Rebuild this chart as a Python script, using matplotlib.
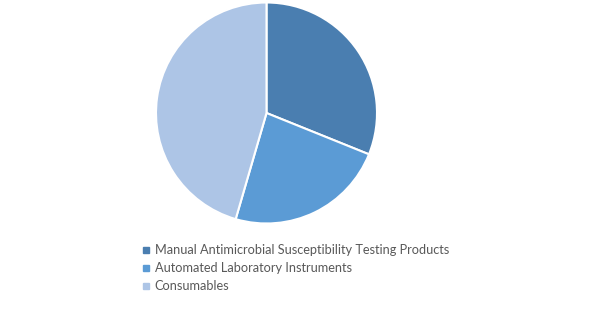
import matplotlib.pyplot as plt
from matplotlib.lines import Line2D

labels = ['Manual Antimicrobial Susceptibility Testing Products',
          'Automated Laboratory Instruments',
          'Consumables']
shares = [31.1, 23.4, 45.5]
colors = ['#4a7eb0', '#5b9bd5', '#adc5e6']

fig = plt.figure(figsize=(5.97, 3.12), dpi=100)
W, H = 597, 312
cx, cy, r = 266.5, 113, 110.5
ax = fig.add_axes([(cx - r) / W, (H - cy - r) / H, 2 * r / W, 2 * r / H])
ax.pie(shares, colors=colors, startangle=90, counterclock=False,
       wedgeprops=dict(edgecolor='white', linewidth=1.5))
ax.set_aspect('equal')
ax.set_xlim(-1, 1)
ax.set_ylim(-1, 1)

handles = [Line2D([], [], marker='s', linestyle='', markersize=5,
                  markerfacecolor=c, markeredgecolor=c) for c in colors]
fig.legend(handles, labels, loc='upper left',
           bbox_to_anchor=(129 / W, 1 - 233 / H), frameon=False,
           handlelength=0.8, handletextpad=0.3, labelspacing=0.45,
           prop={'family': 'Lato', 'size': 9.2}, labelcolor='#595959')

fig.savefig('out.png', dpi=100)
